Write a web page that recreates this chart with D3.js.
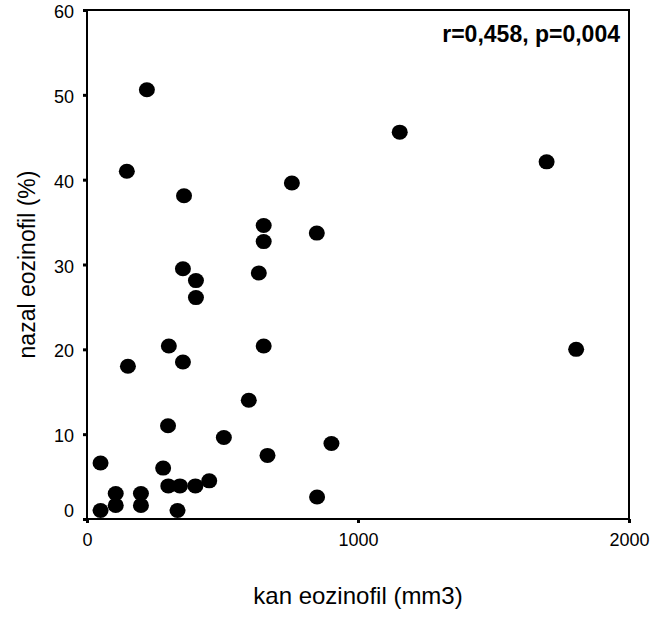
<!doctype html>
<head>
  <style>
    body {
      margin: 0;
      background: #fff;
      font-family: Arial, "Liberation Sans", Helvetica, sans-serif;
    }
    .tick text {
      font-size: 18px;
      fill: #000;
    }
  </style>
<script src="https://cdnjs.cloudflare.com/ajax/libs/d3/7.8.5/d3.min.js"></script>
</head>
<body>
<script>

// kan eozinofil (mm3)
var kanEo = [221, 147, 1154, 358, 756, 1696, 652, 652, 848, 354, 402, 402, 634,
  302, 652, 151, 354, 1805, 597, 299, 505, 902, 666, 50, 281, 451, 300, 343, 400,
  106, 199, 106, 199, 849, 50, 334];
// nazal eozinofil (%)
var nazalEo = [50.6, 41.0, 45.6, 38.1, 39.6, 42.1, 34.6, 32.7, 33.7, 29.5, 28.1, 26.1, 29.0,
  20.4, 20.4, 18.0, 18.5, 20.0, 14.0, 11.0, 9.6, 8.9, 7.5, 6.6, 6.0, 4.5, 3.9, 3.9, 3.9,
  3.0, 3.0, 1.6, 1.6, 2.6, 1.0, 1.0];

var xTicks = [0, 1000, 2000];
var yTicks = [0, 10, 20, 30, 40, 50, 60];
var statText = "r=0,458, p=0,004";
var xTitle = "kan eozinofil (mm3)";
var yTitle = "nazal eozinofil (%)";

var width = 653, height = 617;
var margin = {top: 10, right: 24, bottom: 98, left: 87};
var w = width - margin.left - margin.right;
var h = height - margin.top - margin.bottom;

var svg = d3.select("body").append("svg")
  .attr("width", width)
  .attr("height", height);

var g = svg.append("g")
  .attr("transform", "translate(" + margin.left + "," + margin.top + ")");

var x = d3.scaleLinear().domain([0, 2000]).range([0, w]);
var y = d3.scaleLinear().domain([0, 60]).range([h, 0]);

// frame
g.append("rect")
  .attr("x", 0)
  .attr("y", 0)
  .attr("width", w)
  .attr("height", h)
  .attr("fill", "none")
  .attr("stroke", "#000")
  .attr("stroke-width", 2);

var xAxis = g.append("g")
  .attr("transform", "translate(0," + h + ")")
  .call(d3.axisBottom(x).tickValues(xTicks).tickSize(4).tickPadding(10).tickFormat(d3.format("d")));
xAxis.select(".domain").remove();
xAxis.selectAll(".tick line").attr("stroke", "#000").attr("stroke-width", 3);

var yAxis = g.append("g")
  .call(d3.axisLeft(y).tickValues(yTicks).tickSize(4).tickPadding(9).tickFormat(d3.format("d")));
yAxis.select(".domain").remove();
yAxis.selectAll(".tick line").attr("stroke", "#000").attr("stroke-width", 3);
yAxis.selectAll(".tick text")
  .attr("dy", function(d) { return d === 0 ? "-0.15em" : "0.42em"; });

// points
var pts = kanEo.map(function(d, i) { return [d, nazalEo[i]]; });
g.selectAll(".points")
  .data(pts).enter()
  .append("ellipse")
    .attr("class", "points")
    .attr("cx", function(d) { return x(d[0]); })
    .attr("cy", function(d) { return y(d[1]); })
    .attr("rx", 8)
    .attr("ry", 7.5)
    .attr("fill", "#000");

g.append("text")
  .attr("x", w - 9)
  .attr("y", 32)
  .attr("text-anchor", "end")
  .style("font-size", "23px")
  .style("font-weight", "bold")
  .text(statText);

svg.append("text")
  .attr("x", margin.left + w / 2)
  .attr("y", 604)
  .attr("text-anchor", "middle")
  .style("font-size", "24px")
  .text(xTitle);

svg.append("text")
  .attr("transform", "translate(35," + (margin.top + h / 2) + ") rotate(-90)")
  .attr("text-anchor", "middle")
  .style("font-size", "23px")
  .text(yTitle);
</script>
</body>
